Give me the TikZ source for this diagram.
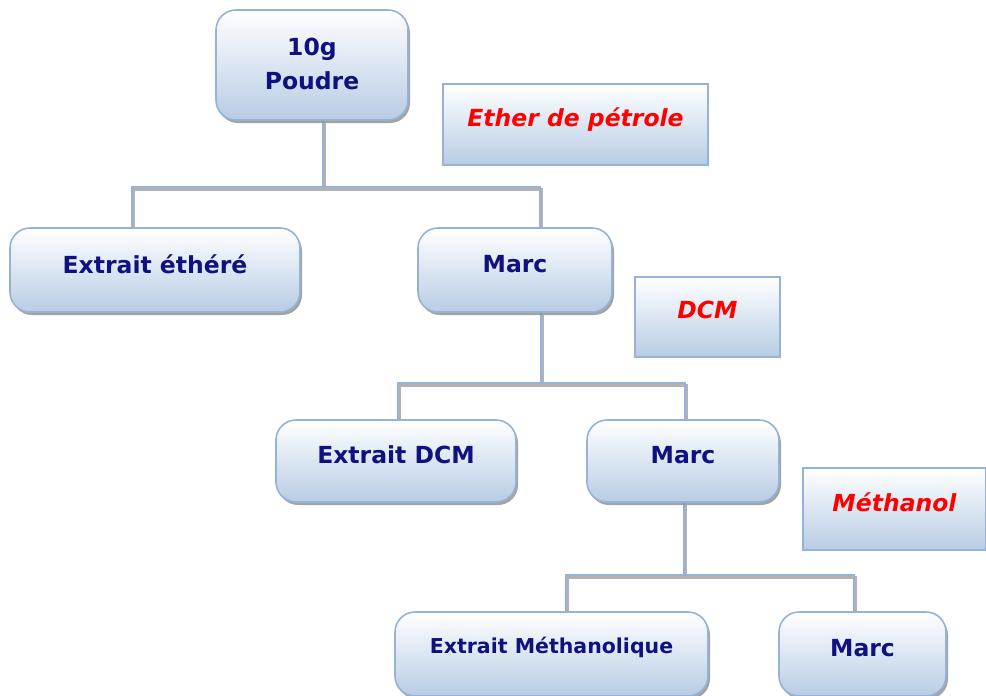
\documentclass[tikz,border=0pt]{standalone}
\usepackage{fontspec}
\setmainfont{DejaVu Sans}
\usepackage{xcolor}
\usetikzlibrary{shadows,backgrounds}

\definecolor{boxline}{HTML}{95B3D7}
\definecolor{boxfill}{HTML}{B8CCE4}
\definecolor{navy}{HTML}{10107E}

\tikzset{
  procbox/.style={draw=boxline, line width=1.6pt, rounded corners=20pt,
    top color=white, bottom color=boxfill, inner sep=0pt, text depth=12pt,
    text=navy, font=\bfseries\fontsize{23.5}{34}\selectfont, align=center,
    drop shadow={shadow xshift=2pt, shadow yshift=-3pt, fill=black!45, opacity=0.8}},
  solvbox/.style={draw=boxline, line width=1.6pt,
    top color=white, bottom color=boxfill, inner sep=0pt, text depth=14pt,
    text=red, font=\bfseries\itshape\fontsize{23.5}{28}\selectfont},
  link/.style={draw=boxline, line width=2.5pt,
    preaction={draw=black!30, line width=2.5pt, transform canvas={xshift=1.5pt, yshift=-2.5pt}}}
}

\begin{document}
\begin{tikzpicture}[x=1pt, y=-1pt]
  \useasboundingbox (0,0) rectangle (986,696);

  % Solvent labels
  \node[solvbox, minimum width=265pt, minimum height=81pt] (ether) at (575.5,124.5) {Ether de pétrole};
  \node[solvbox, minimum width=145pt, minimum height=80pt] (dcm) at (707.5,317) {DCM};
  \node[solvbox, minimum width=183pt, minimum height=82pt] (methanol) at (894.5,509) {Méthanol};

  % Extraction steps
  \node[procbox, minimum width=192pt, minimum height=110pt, text depth=3pt] (poudre) at (312,65) {10g\\Poudre};
  \node[procbox, minimum width=290pt, minimum height=84pt] (extEther) at (155,270) {Extrait éthéré};
  \node[procbox, minimum width=194pt, minimum height=84pt] (marcA) at (515,270) {Marc};
  \node[procbox, minimum width=240pt, minimum height=82pt] (extDCM) at (396,461) {Extrait DCM};
  \node[procbox, minimum width=192pt, minimum height=82pt] (marcB) at (683,461) {Marc};
  \node[procbox, minimum width=313pt, minimum height=84pt, text depth=18pt, font=\bfseries\fontsize{20.5}{26}\selectfont] (extMeth) at (551.5,654) {Extrait Méthanolique};
  \node[procbox, minimum width=167pt, minimum height=84pt] (marcC) at (862.5,654) {Marc};

  % Connectors
  \begin{scope}[on background layer]
    \draw[link] ([xshift=11pt]poudre.south) -- ++(0,66) coordinate (jA);
    \draw[link] ([xshift=-23pt]extEther.north) |- (jA) -| ([xshift=25pt]marcA.north);
    \draw[link] ([xshift=26pt]marcA.south) -- ++(0,70) coordinate (jB);
    \draw[link] ([xshift=2pt]extDCM.north) |- (jB) -| ([xshift=2pt]marcB.north);
    \draw[link] ([xshift=1pt]marcB.south) -- ++(0,72) coordinate (jC);
    \draw[link] ([xshift=14.5pt]extMeth.north) |- (jC) -| ([xshift=-8.5pt]marcC.north);
  \end{scope}
\end{tikzpicture}
\end{document}
